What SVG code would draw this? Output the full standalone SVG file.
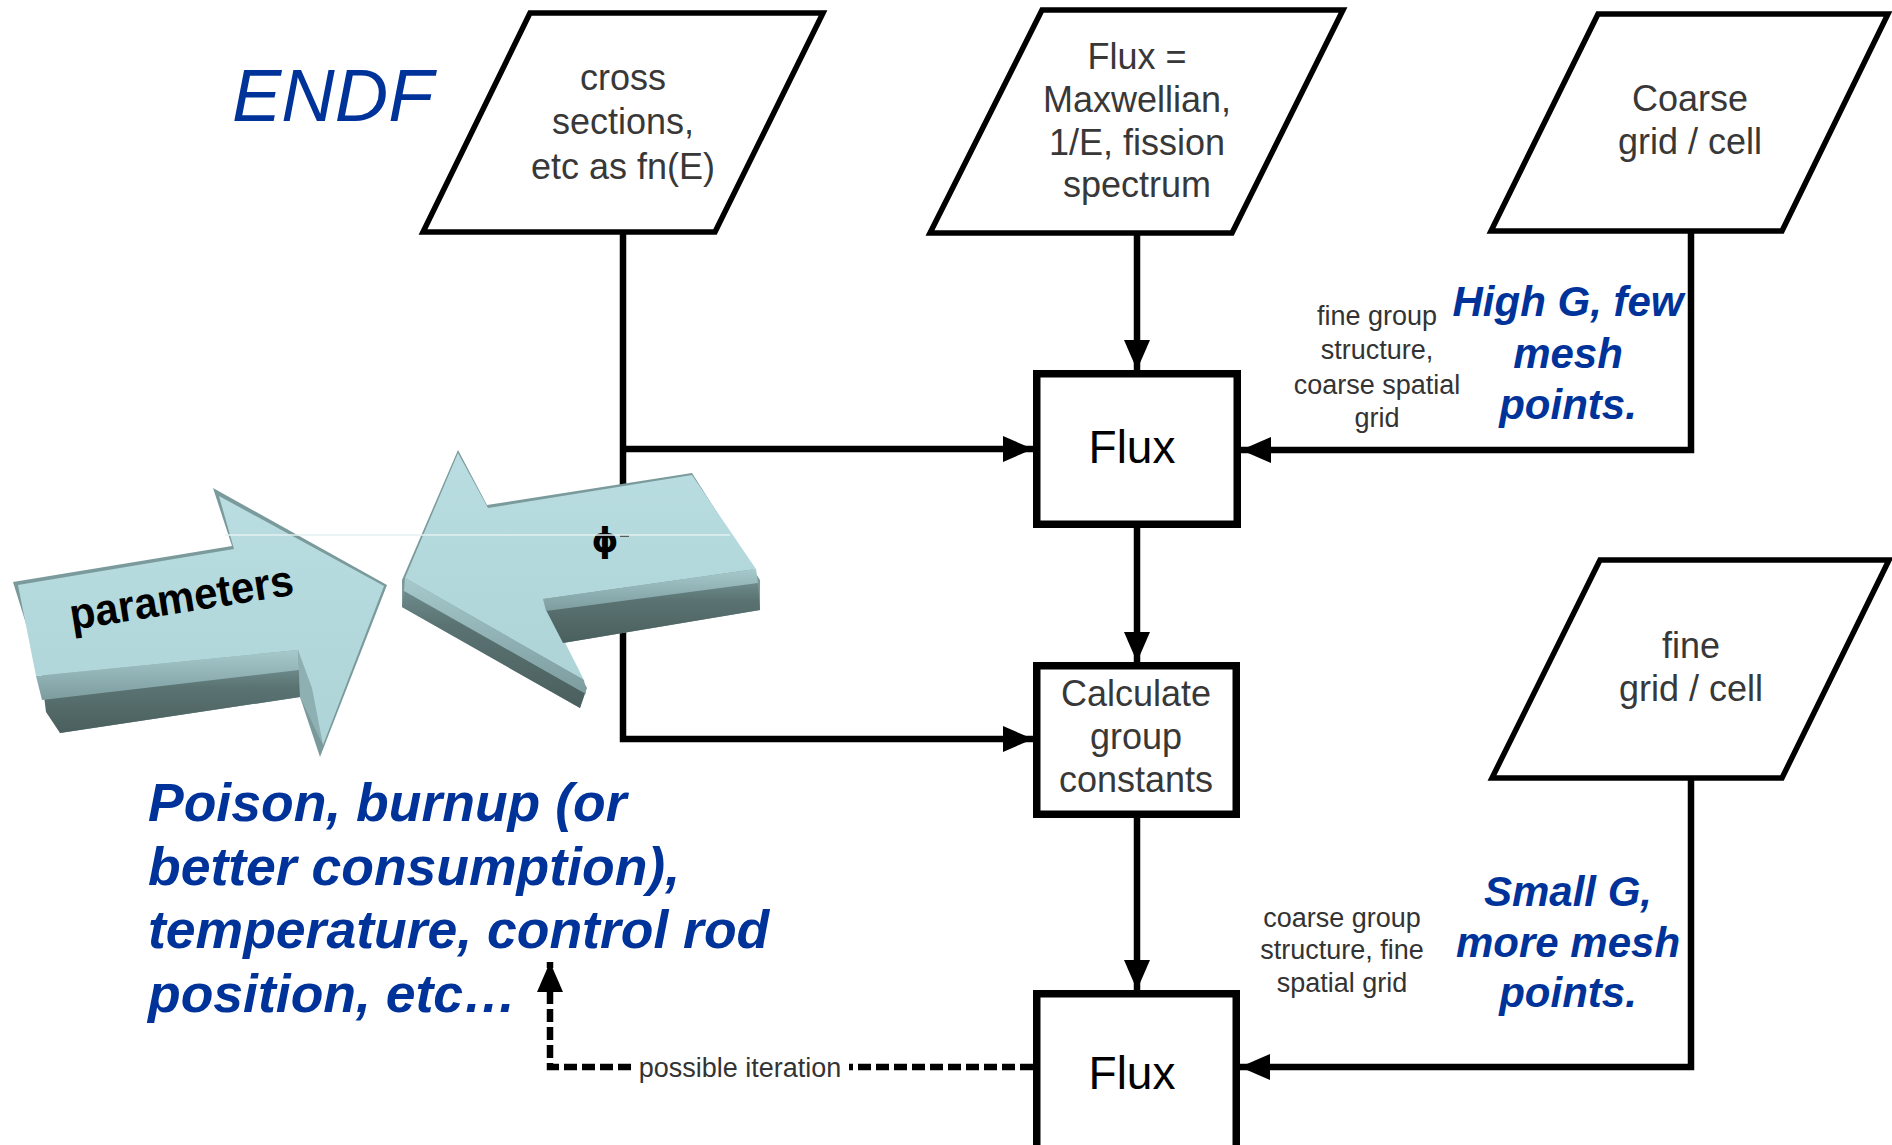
<svg xmlns="http://www.w3.org/2000/svg" width="1892" height="1145" viewBox="0 0 1892 1145">
<defs>
<style>
.para{fill:#fff;stroke:#000;stroke-width:5.5;stroke-linejoin:miter}
.box{fill:#fff;stroke:#000;stroke-width:7.5}
.ptxt{font-family:"Liberation Sans",Arial,sans-serif;font-size:36px;fill:#383838;text-anchor:middle}
.btxt{font-family:"Liberation Sans",Arial,sans-serif;font-size:46px;fill:#000;text-anchor:middle}
.small{font-family:"Liberation Sans",Arial,sans-serif;font-size:27px;fill:#333;text-anchor:middle}
.blue{font-family:"Liberation Sans",Arial,sans-serif;font-weight:bold;font-style:italic;fill:#00339a}
.conn{fill:none;stroke:#000;stroke-width:6.5}
.dash{fill:none;stroke:#000;stroke-width:6.5;stroke-dasharray:13 5}
.top{fill:url(#topg)}
.sil{fill:#7b9a9c}
.band{fill:url(#bandg)}
</style>
<marker id="ah" markerUnits="userSpaceOnUse" markerWidth="32" markerHeight="26" refX="30" refY="13" orient="auto">
<path d="M0,0 L30,13 L0,26 z" fill="#000"/>
</marker>
<linearGradient id="side" x1="0" y1="0" x2="0" y2="1">
<stop offset="0" stop-color="#6f8b8c"/>
<stop offset="0.3" stop-color="#5a7372"/>
<stop offset="1" stop-color="#4a5f5e"/>
</linearGradient>
<linearGradient id="bandg" x1="0" y1="0" x2="0" y2="1">
<stop offset="0" stop-color="#a6c9cc"/>
<stop offset="1" stop-color="#7c9c9e"/>
</linearGradient>
<linearGradient id="topg" x1="0" y1="0" x2="0" y2="1">
<stop offset="0" stop-color="#b9dde0"/>
<stop offset="1" stop-color="#aed4d8"/>
</linearGradient>
</defs>
<rect width="1892" height="1145" fill="#fff"/>

<text x="232" y="121" font-family="Liberation Sans, Arial, sans-serif" font-style="italic" font-size="74" fill="#00339a">ENDF</text>

<g id="connectors">
<path class="conn" d="M623,233 V739 H1033" marker-end="url(#ah)"/>
<path class="conn" d="M623,449 H1033" marker-end="url(#ah)"/>
<path class="conn" d="M1137,233 V370" marker-end="url(#ah)"/>
<path class="conn" d="M1137,528 V662" marker-end="url(#ah)"/>
<path class="conn" d="M1137,818 V990" marker-end="url(#ah)"/>
<path class="conn" d="M1691,231 V450 H1241" marker-end="url(#ah)"/>
<path class="conn" d="M1691,778 V1067 H1240" marker-end="url(#ah)"/>
<path class="dash" d="M1033,1067 H849"/>
<path class="dash" d="M631,1067 H550 V962" marker-end="url(#ah)"/>
<text x="740" y="1077" class="small" font-size="28">possible iteration</text>
</g>

<g id="node-cross-sections">
<polygon class="para" points="530,13 823,13 715,232 423,232"/>
<text class="ptxt"><tspan x="623" y="90">cross</tspan><tspan x="623" y="134">sections,</tspan><tspan x="623" y="179">etc as fn(E)</tspan></text>
</g>

<g id="node-flux-spectrum">
<polygon class="para" points="1042,10 1343,10 1232,233 930,233"/>
<text class="ptxt"><tspan x="1137" y="69">Flux =</tspan><tspan x="1137" y="112">Maxwellian,</tspan><tspan x="1137" y="155">1/E, fission</tspan><tspan x="1137" y="197">spectrum</tspan></text>
</g>

<g id="node-coarse-grid">
<polygon class="para" points="1598,14 1888,14 1782,231 1491,231"/>
<text class="ptxt"><tspan x="1690" y="111">Coarse</tspan><tspan x="1690" y="154">grid / cell</tspan></text>
</g>

<g id="node-fine-grid">
<polygon class="para" points="1600,560 1889,560 1782,778 1492,778"/>
<text class="ptxt"><tspan x="1691" y="658">fine</tspan><tspan x="1691" y="701">grid / cell</tspan></text>
</g>

<g id="node-flux-1">
<rect class="box" x="1036.75" y="373.75" width="200.5" height="150.5"/>
<text class="btxt" x="1132" y="463">Flux</text>
</g>

<g id="node-calc">
<rect class="box" x="1036.75" y="665.75" width="199.5" height="148.5"/>
<text class="ptxt"><tspan x="1136" y="706">Calculate</tspan><tspan x="1136" y="749">group</tspan><tspan x="1136" y="792">constants</tspan></text>
</g>

<g id="node-flux-2">
<rect class="box" x="1036.75" y="993.75" width="199.5" height="170"/>
<text class="btxt" x="1132" y="1089">Flux</text>
</g>

<g id="label-fine-group">
<text class="small"><tspan x="1377" y="325">fine group</tspan><tspan x="1377" y="359">structure,</tspan><tspan x="1377" y="394">coarse spatial</tspan><tspan x="1377" y="427">grid</tspan></text>
</g>
<g id="label-coarse-group">
<text class="small"><tspan x="1342" y="927">coarse group</tspan><tspan x="1342" y="959">structure, fine</tspan><tspan x="1342" y="992">spatial grid</tspan></text>
</g>

<g id="label-high-g">
<text class="blue" font-size="42" text-anchor="middle"><tspan x="1568" y="316">High G, few</tspan><tspan x="1568" y="368">mesh</tspan><tspan x="1568" y="419">points.</tspan></text>
</g>
<g id="label-small-g">
<text class="blue" font-size="42" text-anchor="middle"><tspan x="1568" y="906">Small G,</tspan><tspan x="1568" y="957">more mesh</tspan><tspan x="1568" y="1007">points.</tspan></text>
</g>

<g id="label-poison">
<text class="blue" font-size="53.5"><tspan x="148" y="821">Poison, burnup (or</tspan><tspan x="148" y="885">better consumption),</tspan><tspan x="148" y="948">temperature, control rod</tspan><tspan x="148" y="1012">position, etc…</tspan></text>
</g>

<g id="arrow-parameters">
<polygon class="sil" points="13,582 232,546 213,488 387,585 320,757 300,697 60,733"/>
<polygon fill="url(#side)" points="44,696 299,668 300,697 60,733 46,712"/>
<polygon class="band" points="36,676 298,650 299,670 42,700"/>
<polygon class="top" points="18,585 234,549 219,496 384,586 323,745 298,650 36,676"/>
<polygon fill="#8fb0b2" points="298,650 312,688 323,745 300,697"/>
<text x="72" y="630" transform="rotate(-9 72 630)" font-family="Liberation Sans, Arial, sans-serif" font-weight="bold" font-size="44" fill="#000" textLength="226" lengthAdjust="spacingAndGlyphs">parameters</text>
</g>

<g id="arrow-phi">
<polygon class="sil" points="402,580 458,450 487,505 692,473 760,580 760,610 563,643 587,688 580,708 402,607"/>
<polygon class="top" points="405,578 458,453 488,508 692,475 756,569 543,599 584,680"/>
<polygon fill="url(#side)" points="404,590 585,693 580,708 402,607"/>
<polygon fill="url(#side)" points="546,610 758,582 760,610 563,643"/>
<polygon class="band" points="405,578 584,680 586,694 404,591"/>
<polygon class="band" points="543,599 756,569 758,583 546,611"/>
<text x="605" y="552" font-family="DejaVu Sans, sans-serif" font-weight="bold" font-size="34" fill="#000" text-anchor="middle">ϕ</text>
<line x1="620" y1="536" x2="629" y2="536" stroke="#333" stroke-width="1.5"/>
</g>
<line x1="225" y1="535" x2="730" y2="535" stroke="#e4f0f1" stroke-width="1.5"/>
</svg>
